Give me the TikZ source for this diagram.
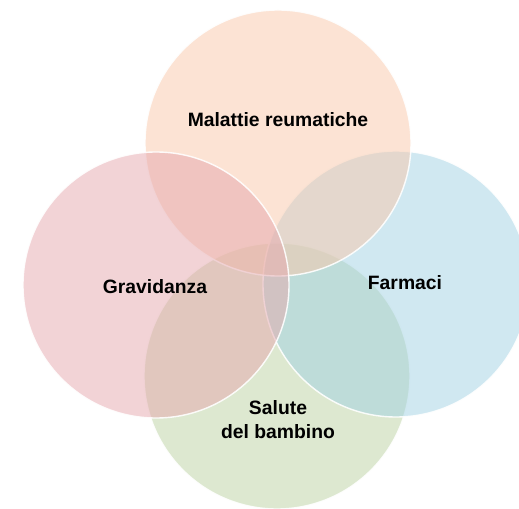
\documentclass[tikz,border=0pt]{standalone}
\usepackage{fontspec}
\setmainfont{Liberation Sans}
\usetikzlibrary{positioning}

\definecolor{peach}{RGB}{249,199,169}
\definecolor{rose}{RGB}{229,167,173}
\definecolor{sky}{RGB}{161,209,227}
\definecolor{sage}{RGB}{187,209,161}

\tikzset{
	circ/.style={circle, draw=white, line width=1.2pt, fill opacity=0.5, draw opacity=0.9, minimum size=7.98cm, inner sep=0pt},
	lbl/.style={font=\bfseries\fontsize{16.5}{20.5}\selectfont, align=center, text=black}
}

\begin{document}
\begin{tikzpicture}[x=0.03cm, y=-0.03cm]
		\useasboundingbox (0,0) rectangle (519,509);

		\node[circ, fill=sage] at (277,376) (salute) {};
		\node[circ, fill=sky] at (396,284) (farmaci) {};
		\node[circ, fill=peach] at (278,143) (malattie) {};
		\node[circ, fill=rose] at (156,285) (gravidanza) {};

		\node[lbl] at (278,120) (tmalattie) {Malattie reumatiche};
		\node[lbl] at (155,287) (tgravidanza) {Gravidanza};
		\node[lbl] at (405,283) (tfarmaci) {Farmaci};
		\node[lbl] at (278,420) (tsalute) {Salute\\del bambino};
	\end{tikzpicture}
\end{document}
